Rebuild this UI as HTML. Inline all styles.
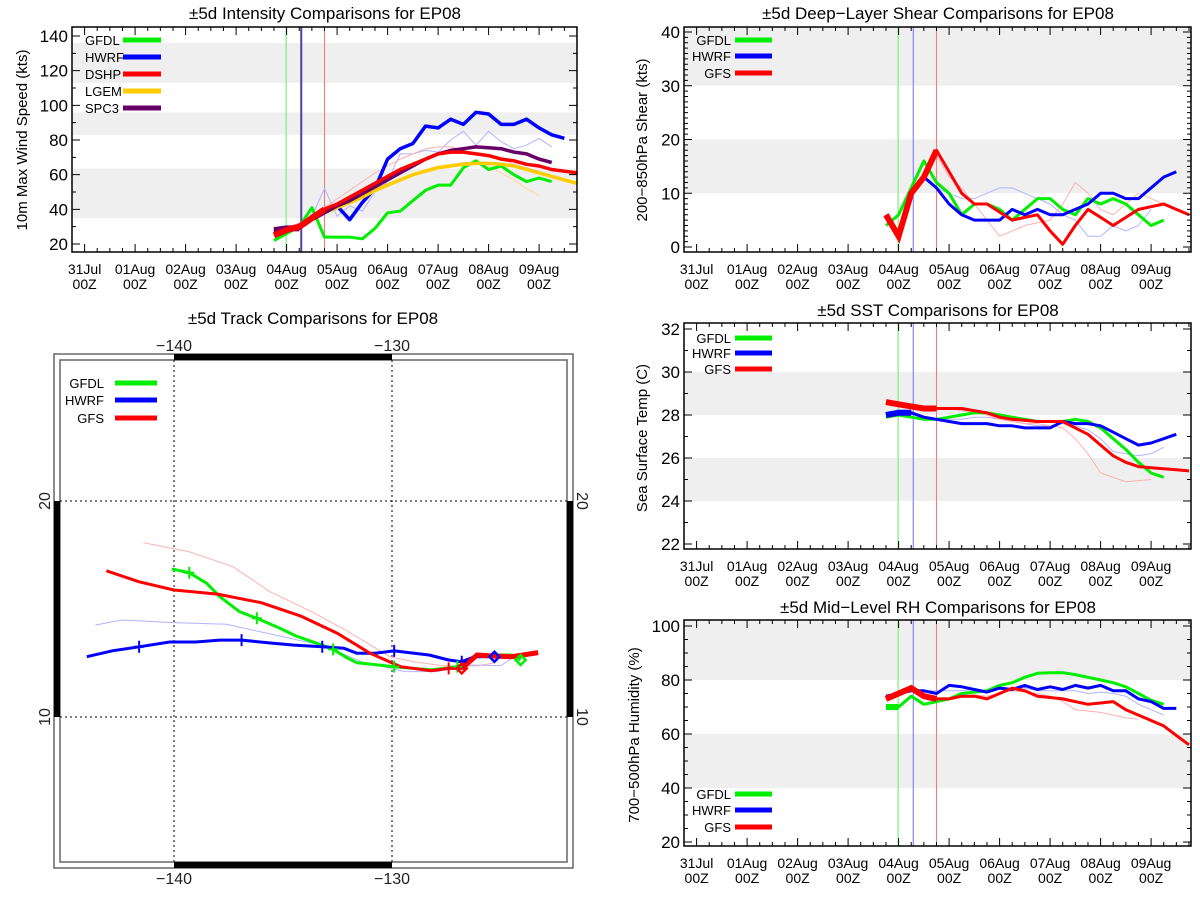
<!DOCTYPE html>
<html><head><meta charset="utf-8">
<style>
html,body{margin:0;padding:0;background:#fff;}
svg{display:block;font-family:"Liberation Sans",sans-serif;}
</style></head>
<body>
<svg id="root" width="1200" height="900" viewBox="0 0 1200 900" xmlns="http://www.w3.org/2000/svg"></svg>
<script>
// ---------- data ----------
const dayLabels=['31Jul','01Aug','02Aug','03Aug','04Aug','05Aug','06Aug','07Aug','08Aug','09Aug'];
// intensity (kts), 6-hourly from 03Aug 18Z
const intGFDL=[22,26,30,41,24,24,24,23,29,38,39,45,51,54,54,64,68,63,65,60,56,58,56];
const intHWRF=[27,29,29,36,40,42,34,44,52,69,75,78,88,87,92,89,96,95,89,89,92,87,83,81];
const intDSHP=[25,28,30,35,40,43,47,51,55,59,63,66,69,72,73,73,72,71,69,68,66,65,63,62,61];
const intLGEM=[25,28,30,34,38,41,44,47,51,54,57,60,62,64,65,66,66.5,66.5,66,65,63,61,59,57,55];
const intSPC3=[28,29,29,34,38,42,45,49,53,57,61,65,69,72,74,75,76,75.5,75,73,72,69,67];
const intPrevHWRF=[36,52,36,42,39,50,56,72,72,74,73,80,85,77,85,79,75,77,81,76];
const intPrevDSHP=[30,32,36,41,46,51,56,61,65,69,72,75,76,76,74,72,71,69,66,64,62];
const intPrevLGEM=[40,43,46,50,53,57,60,63,65,66,67,67,65,61,57,52,48];
const intTicks=[20,40,60,80,100,120,140];
// shear (kts)
const shrGFDL=[4,6,11,16,12,10,6,8,8,7,5,7,9,9,7,6,9,8,9,8,6,4,5];
const shrHWRF=[13,11,8,6,5,5,5,7,6,7,6,6,7,8,10,10,9,9,11,13,14];
const shrGFS=[6,2,10,13,18,14,10,8,8,6.5,5,5.5,6,3,0.5,4,7,5.5,4,5.5,7,7.5,8,7,6];
const shrPrevHWRF=[13,11,10,9,9,10,11,11,10,9,8,6,5,2,2,4,3,4,7];
const shrPrevGFS=[17,13,11,8,5,2,3,4,4.5,5,8,12,10,7,6,8,10,9,8];
const shrTicks=[0,10,20,30,40];
// SST (C)
const sstGFDL=[27.9,28.0,27.9,27.8,27.8,27.9,28.0,28.1,28.1,28.0,27.9,27.8,27.7,27.7,27.7,27.8,27.7,27.4,26.9,26.4,25.8,25.3,25.1];
const sstHWRF=[28.0,28.1,28.1,27.9,27.8,27.7,27.6,27.6,27.6,27.5,27.5,27.4,27.4,27.4,27.7,27.6,27.6,27.5,27.2,26.9,26.6,26.7,26.9,27.1];
const sstGFS=[28.6,28.5,28.4,28.3,28.3,28.3,28.3,28.2,28.1,27.9,27.8,27.75,27.7,27.7,27.7,27.4,27.1,26.6,26.1,25.8,25.6,25.55,25.5,25.45,25.4];
const sstPrevHWRF=[27.9,27.8,27.8,27.8,27.9,27.9,27.8,27.7,27.6,27.5,27.5,27.6,27.5,27.3,26.9,26.3,26.2,26.1,26.2,26.5];
const sstPrevGFS=[28.3,28.3,28.2,28.1,28.0,27.8,27.7,27.6,27.6,27.5,27.4,26.9,26.2,25.3,25.1,24.9,24.95,25.0];
const sstTicks=[22,24,26,28,30,32];
// RH (%)
const rhGFDL=[70,70,74,71,72,73,75,75.5,76,78,79,81,82.5,82.7,82.7,82,81,80,79,77.5,75,72.5,71];
const rhHWRF=[74,75,76,76,75,78,77.5,76.5,75.5,77,76.5,78,76.5,77.5,76.5,78,77,78,76,76,73,72,69.5,69.5];
const rhGFS=[73,75,77,74,73,73,74,74,73,75,77,76,74,73.5,73,72,71,71.5,72,69,67,65,63,59.5,56];
const rhPrevHWRF=[77,76,76,76,76,76.5,76,77,77,77,76,76,76,76,75,75.5,75,74,71,69,67];
const rhPrevGFS=[77,75,73,73,74,74.5,74,75,76,75.5,75,74,72,69,68.5,68,67,66,65.5];
const rhTicks=[20,40,60,80,100];
// track (lon, lat)
const trkHWRFlon=[-144.0,-142.8,-141.6,-140.2,-139.0,-137.9,-136.9,-135.7,-134.5,-133.2,-132.2,-131.6,-130.8,-129.9,-128.3,-127.4,-126.8,-126.2,-125.3];
const trkHWRFlat=[12.79,13.07,13.25,13.47,13.47,13.56,13.56,13.44,13.33,13.25,13.18,12.95,12.95,13.06,12.87,12.64,12.56,12.79,12.79];
const trkGFDLlon=[-140.1,-139.3,-138.5,-137.9,-137.0,-136.2,-135.3,-134.4,-133.1,-132.7,-132.1,-131.6,-129.9,-128.2,-127.0,-126.1,-125.3,-124.5,-124.1];
const trkGFDLlat=[16.85,16.68,16.19,15.57,14.88,14.57,14.18,13.75,13.29,13.13,12.76,12.51,12.33,12.18,12.33,12.79,12.87,12.87,12.64];
const trkGFSlon=[-143.1,-141.6,-140.0,-138.0,-136.0,-134.2,-132.5,-131.0,-129.6,-128.2,-127.4,-126.8,-126.1,-125.3,-124.5,-123.3];
const trkGFSlat=[16.77,16.26,15.88,15.69,15.29,14.68,13.87,12.95,12.33,12.14,12.25,12.25,12.87,12.82,12.79,12.98];
const trkPrevGFSlon=[-141.4,-139.3,-137.3,-135.6,-133.7,-132.0,-130.1,-129.0,-127.7,-126.1,-125.3];
const trkPrevGFSlat=[18.07,17.65,16.96,15.80,14.88,13.95,12.79,12.56,12.38,12.36,12.51];
const trkPrevHWRFlon=[-143.6,-142.4,-140.0,-137.6,-135.7,-133.1,-131.4,-129.4,-127.9,-126.8,-125.0,-124.5];
const trkPrevHWRFlat=[14.26,14.49,14.37,14.29,13.87,13.29,12.56,12.10,12.10,12.41,12.38,12.72];
const trkLonTicks=[-140,-130];
const trkLatTicks=[10,20];

// ---------- helpers ----------
const NS='http://www.w3.org/2000/svg';
const root=document.getElementById('root');
function mk(tag,attrs,parent){const e=document.createElementNS(NS,tag);for(const k in attrs)e.setAttribute(k,attrs[k]);(parent||root).appendChild(e);return e;}
function txt(s,x,y,size,anchor,parent,extra){const t=mk('text',Object.assign({x:x,y:y,'font-size':size,'text-anchor':anchor||'middle',fill:'#000'},extra||{}),parent);t.textContent=s;return t;}

function tsPanel(P,series){
  const g=mk('g',{});
  
  
  const xd=d=>P.d0x+P.dayW*d;
  const yv=v=>P.yp0+(v-P.yv0)*(P.yp1-P.yp0)/(P.yv1-P.yv0);
  const clampY=y=>Math.max(P.top,Math.min(P.bottom,y));
  P.bands.forEach((b,k)=>{
    const y1=clampY(yv(b[1])),y0=clampY(yv(b[0]));
    const r=mk('rect',{x:P.left,y:y1,width:P.right-P.left,height:y0-y1,fill:'#efefef'},g);
    
    
  });
  P.vlines.forEach(v=>{
    const l=mk('line',{x1:xd(v.d),x2:xd(v.d),y1:P.top,y2:P.bottom,stroke:v.c,'stroke-width':v.w},g);
    
    
  });
  series.forEach(s=>{
    const pts=s.data.map((v,i)=>[xd(3.75+0.25*(i+s.start)),yv(v)]);
    const p=mk('polyline',{points:pts.map(q=>q[0].toFixed(1)+','+q[1].toFixed(1)).join(' '),fill:'none',stroke:s.c,'stroke-width':s.w,'stroke-linejoin':'round'},g);
    
    
    if(s.thick){
      const q=pts.slice(0,s.thick);
      const p2=mk('polyline',{points:q.map(a=>a[0].toFixed(1)+','+a[1].toFixed(1)).join(' '),fill:'none',stroke:s.tc||s.c,'stroke-width':6},g);
      
      
    }
  });
  const box=mk('rect',{x:P.left,y:P.top,width:P.right-P.left,height:P.bottom-P.top,fill:'none',stroke:'#000','stroke-width':1.5},g);
  
  
  for(let h=-1;h<=39;h++){
    const d=h/4, x=xd(d);
    if(x<P.left||x>P.right)continue;
    const L=(h%4===0)?8:4;
    const t=mk('path',{d:`M${x},${P.bottom}v${-L}M${x},${P.top}v${L}`,stroke:'#000','stroke-width':1},g);
    
    
  }
  dayLabels.forEach((lab,i)=>{
    const t=txt(lab,xd(i),P.bottom+22,14,'middle',g);
    
    
    const t2=txt('00Z',xd(i),P.bottom+37,14,'middle',g);
    
    
  });
  const step=(P.ticks[1]-P.ticks[0])/P.minorDiv;
  for(let v=P.ticks[0];v<=P.ticks[P.ticks.length-1]+1e-6;v+=step){
    const y=yv(v); const major=P.ticks.some(t=>Math.abs(t-v)<1e-6); const L=major?8:4;
    const t=mk('path',{d:`M${P.left},${y}h${L}M${P.right},${y}h${-L}`,stroke:'#000','stroke-width':1},g);
    
    
  }
  P.ticks.forEach(v=>{
    const t=txt(String(v),P.left-4,yv(v)+6,17,'end',g);
    
    
  });
  const tt=txt(P.title,P.tx,P.ty,17,'middle',g);
  
  
  const yt=txt(P.ytitle,0,0,15,'middle',g,{transform:`translate(${P.ytx},${P.yty}) rotate(-90)`});
  
  
  P.legend.names.forEach((n,k)=>{
    const y=P.legend.ys[k];
    const t=txt(n,P.legend.tx,y+5,13,P.legend.anchor,g);
    
    
    const l=mk('line',{x1:P.legend.l1,x2:P.legend.l2,y1:y,y2:y,stroke:P.legend.colors[k],'stroke-width':5},g);
    
    
  });
}

const G='#00ee00',B='#0000ff',R='#ff0000';
tsPanel({name:'intensity-panel',left:72,right:577,top:27,bottom:252,d0x:84.6,dayW:50.5,yv0:20,yp0:244,yv1:140,yp1:36,
  ticks:intTicks,minorDiv:2,bands:[[35,63.5],[83,96],[113,136]],
  vlines:[{d:3.99,c:'#60f060',w:1},{d:4.29,c:'#5040a0',w:2},{d:4.75,c:'#ff7070',w:1}],
  title:'±5d Intensity Comparisons for EP08',tx:325,ty:19,ytitle:'10m Max Wind Speed (kts)',ytx:27,yty:140,
  legend:{names:['GFDL','HWRF','DSHP','LGEM','SPC3'],colors:[G,B,R,'#ffcc00','#660066'],ys:[40,57,74,91,108],tx:85,anchor:'start',l1:123,l2:161}},
 [{name:'prev-hwrf-intensity',data:intPrevHWRF,start:3,c:'#b0b4ff',w:1},
  {name:'prev-dshp-intensity',data:intPrevDSHP,start:1,c:'#ffb0b0',w:1},
  {name:'prev-lgem-intensity',data:intPrevLGEM,start:5,c:'#ffd890',w:1},
  {name:'gfdl-intensity',data:intGFDL,start:0,c:G,w:3},
  {name:'hwrf-intensity',data:intHWRF,start:0,c:B,w:3.5},
  {name:'lgem-intensity',data:intLGEM,start:0,c:'#ffcc00',w:3.5},
  {name:'spc3-intensity',data:intSPC3,start:0,c:'#660066',w:3.5,thick:3},
  {name:'dshp-intensity',data:intDSHP,start:0,c:R,w:3.5,thick:5}]);
tsPanel({name:'shear-panel',left:684,right:1191,top:27,bottom:252,d0x:696.6,dayW:50.5,yv0:0,yp0:247,yv1:40,yp1:32,
  ticks:shrTicks,minorDiv:10,bands:[[10,20],[30,45]],
  vlines:[{d:3.99,c:'#60f060',w:1},{d:4.29,c:'#7070ff',w:1},{d:4.75,c:'#ff7070',w:1}],
  title:'±5d Deep−Layer Shear Comparisons for EP08',tx:938,ty:19,ytitle:'200−850hPa Shear (kts)',ytx:647,yty:140,
  legend:{names:['GFDL','HWRF','GFS'],colors:[G,B,R],ys:[40,56,73],tx:731,anchor:'end',l1:735,l2:772}},
 [{name:'prev-hwrf-shear',data:shrPrevHWRF,start:3,c:'#b0b4ff',w:1},
  {name:'prev-gfs-shear',data:shrPrevGFS,start:4,c:'#ffb0b0',w:1},
  {name:'gfdl-shear',data:shrGFDL,start:0,c:G,w:3},
  {name:'hwrf-shear',data:shrHWRF,start:3,c:B,w:3},
  {name:'gfs-shear',data:shrGFS,start:0,c:R,w:3,thick:5}]);
tsPanel({name:'sst-panel',left:684,right:1191,top:323,bottom:549,d0x:696.6,dayW:50.5,yv0:22,yp0:544,yv1:32,yp1:329,
  ticks:sstTicks,minorDiv:2,bands:[[24,26],[28,30]],
  vlines:[{d:3.99,c:'#60f060',w:1},{d:4.29,c:'#7070ff',w:1},{d:4.75,c:'#ff7070',w:1}],
  title:'±5d SST Comparisons for EP08',tx:938,ty:316,ytitle:'Sea Surface Temp (C)',ytx:647,yty:438,
  legend:{names:['GFDL','HWRF','GFS'],colors:[G,B,R],ys:[338,353,369],tx:731,anchor:'end',l1:735,l2:772}},
 [{name:'prev-hwrf-sst',data:sstPrevHWRF,start:3,c:'#b0b4ff',w:1},
  {name:'prev-gfs-sst',data:sstPrevGFS,start:4,c:'#ffb0b0',w:1},
  {name:'gfdl-sst',data:sstGFDL,start:0,c:G,w:3},
  {name:'hwrf-sst',data:sstHWRF,start:0,c:B,w:3,thick:3},
  {name:'gfs-sst',data:sstGFS,start:0,c:R,w:3,thick:5}]);
tsPanel({name:'rh-panel',left:684,right:1191,top:620,bottom:846,d0x:696.6,dayW:50.5,yv0:20,yp0:842,yv1:100,yp1:626,
  ticks:rhTicks,minorDiv:4,bands:[[40,60],[80,102]],
  vlines:[{d:3.99,c:'#60f060',w:1},{d:4.29,c:'#7070ff',w:1},{d:4.75,c:'#ff7070',w:1}],
  title:'±5d Mid−Level RH Comparisons for EP08',tx:938,ty:613,ytitle:'700−500hPa Humidity (%)',ytx:639,yty:735,
  legend:{names:['GFDL','HWRF','GFS'],colors:[G,B,R],ys:[794,810,827],tx:731,anchor:'end',l1:735,l2:772}},
 [{name:'prev-hwrf-rh',data:rhPrevHWRF,start:2,c:'#b0b4ff',w:1},
  {name:'prev-gfs-rh',data:rhPrevGFS,start:2,c:'#ffb0b0',w:1},
  {name:'gfdl-rh',data:rhGFDL,start:0,c:G,w:3,thick:2},
  {name:'hwrf-rh',data:rhHWRF,start:0,c:B,w:3},
  {name:'gfs-rh',data:rhGFS,start:0,c:R,w:3,thick:5}]);

(function(){
  const g=mk('g',{});
  
  
  const X=lon=>174+(lon+140)*21.8, Y=lat=>501+(20-lat)*21.6;
  const o=mk('rect',{x:54,y:354,width:519,height:514,fill:'none',stroke:'#666','stroke-width':1.5},g);
  
  
  const inr=mk('rect',{x:60,y:360,width:507,height:502,fill:'none',stroke:'#666','stroke-width':1.5},g);
  
  
  const bars=[[X(-140),354,X(-130)-X(-140),6],[X(-140),862,X(-130)-X(-140),6],[54,Y(20),6,Y(10)-Y(20)],[567,Y(20),6,Y(10)-Y(20)]];
  bars.forEach(b=>{
    const r=mk('rect',{x:b[0],y:b[1],width:b[2],height:b[3],fill:'#000'},g);
    
    
  });
  trkLonTicks.forEach(lon=>{
    const l=mk('line',{x1:X(lon),x2:X(lon),y1:360,y2:862,stroke:'#000','stroke-width':1,'stroke-dasharray':'2,3'},g);
    
    
    const t1=txt('−'+Math.abs(lon),X(lon),351,16,'middle',g,{fill:'#222'});
    
    
    const t2=txt('−'+Math.abs(lon),X(lon),884,16,'middle',g,{fill:'#222'});
    
    
  });
  trkLatTicks.forEach(lat=>{
    const l=mk('line',{x1:60,x2:567,y1:Y(lat),y2:Y(lat),stroke:'#000','stroke-width':1,'stroke-dasharray':'2,3'},g);
    
    
    const t1=txt(String(lat),0,0,16,'middle',g,{transform:`translate(50,${Y(lat)}) rotate(-90)`,fill:'#222'});
    
    
    const t2=txt(String(lat),0,0,16,'middle',g,{transform:`translate(577,${Y(lat)}) rotate(90)`,fill:'#222'});
    
    
  });
  function track(lons,lats,c,w,name){
    const p=mk('polyline',{points:lons.map((l,i)=>X(l).toFixed(1)+','+Y(lats[i]).toFixed(1)).join(' '),fill:'none',stroke:c,'stroke-width':w,'stroke-linejoin':'round'},g);
    
    
  }
  function plus(lon,lat,c){
    const p=mk('path',{d:`M${X(lon)-5},${Y(lat)}h10M${X(lon)},${Y(lat)-6}v12`,stroke:c,'stroke-width':2},g);
    
    
  }
  function diamond(lon,lat,c){
    const x=X(lon),y=Y(lat);
    const p=mk('path',{d:`M${x},${y-5}L${x+5},${y}L${x},${y+5}L${x-5},${y}Z`,fill:'none',stroke:c,'stroke-width':2.5},g);
    
    
  }
  track(trkPrevGFSlon,trkPrevGFSlat,'#ffb0b0',1,'prev-gfs-track');
  track(trkPrevHWRFlon,trkPrevHWRFlat,'#b0b4ff',1,'prev-hwrf-track');
  track(trkGFDLlon,trkGFDLlat,G,3,'gfdl-track');
  track(trkHWRFlon,trkHWRFlat,B,3,'hwrf-track');
  track(trkGFSlon,trkGFSlat,R,3,'gfs-track');
  track(trkGFSlon.slice(11),trkGFSlat.slice(11),R,5,'gfs-track-analysis');
  [2,6,9,13,16].forEach(i=>plus(trkHWRFlon[i],trkHWRFlat[i],B));
  [1,5,9,12,14].forEach(i=>plus(trkGFDLlon[i],trkGFDLlat[i],G));
  [10].forEach(i=>plus(trkGFSlon[i],trkGFSlat[i],R));
  diamond(trkGFDLlon[18],trkGFDLlat[18],G);
  diamond(trkHWRFlon[18],trkHWRFlat[18],B);
  diamond(trkGFSlon[11],trkGFSlat[11],R);
  const tt=txt('±5d Track Comparisons for EP08',313,324,17,'middle',g);
  
  
  const names=['GFDL','HWRF','GFS'],cols=[G,B,R],ys=[383,400,418];
  names.forEach((n,k)=>{
    const t=txt(n,104,ys[k]+5,13,'end',g);
    
    
    const l=mk('line',{x1:115,x2:157,y1:ys[k],y2:ys[k],stroke:cols[k],'stroke-width':5},g);
    
    
  });
})();
</script>
</body></html>
